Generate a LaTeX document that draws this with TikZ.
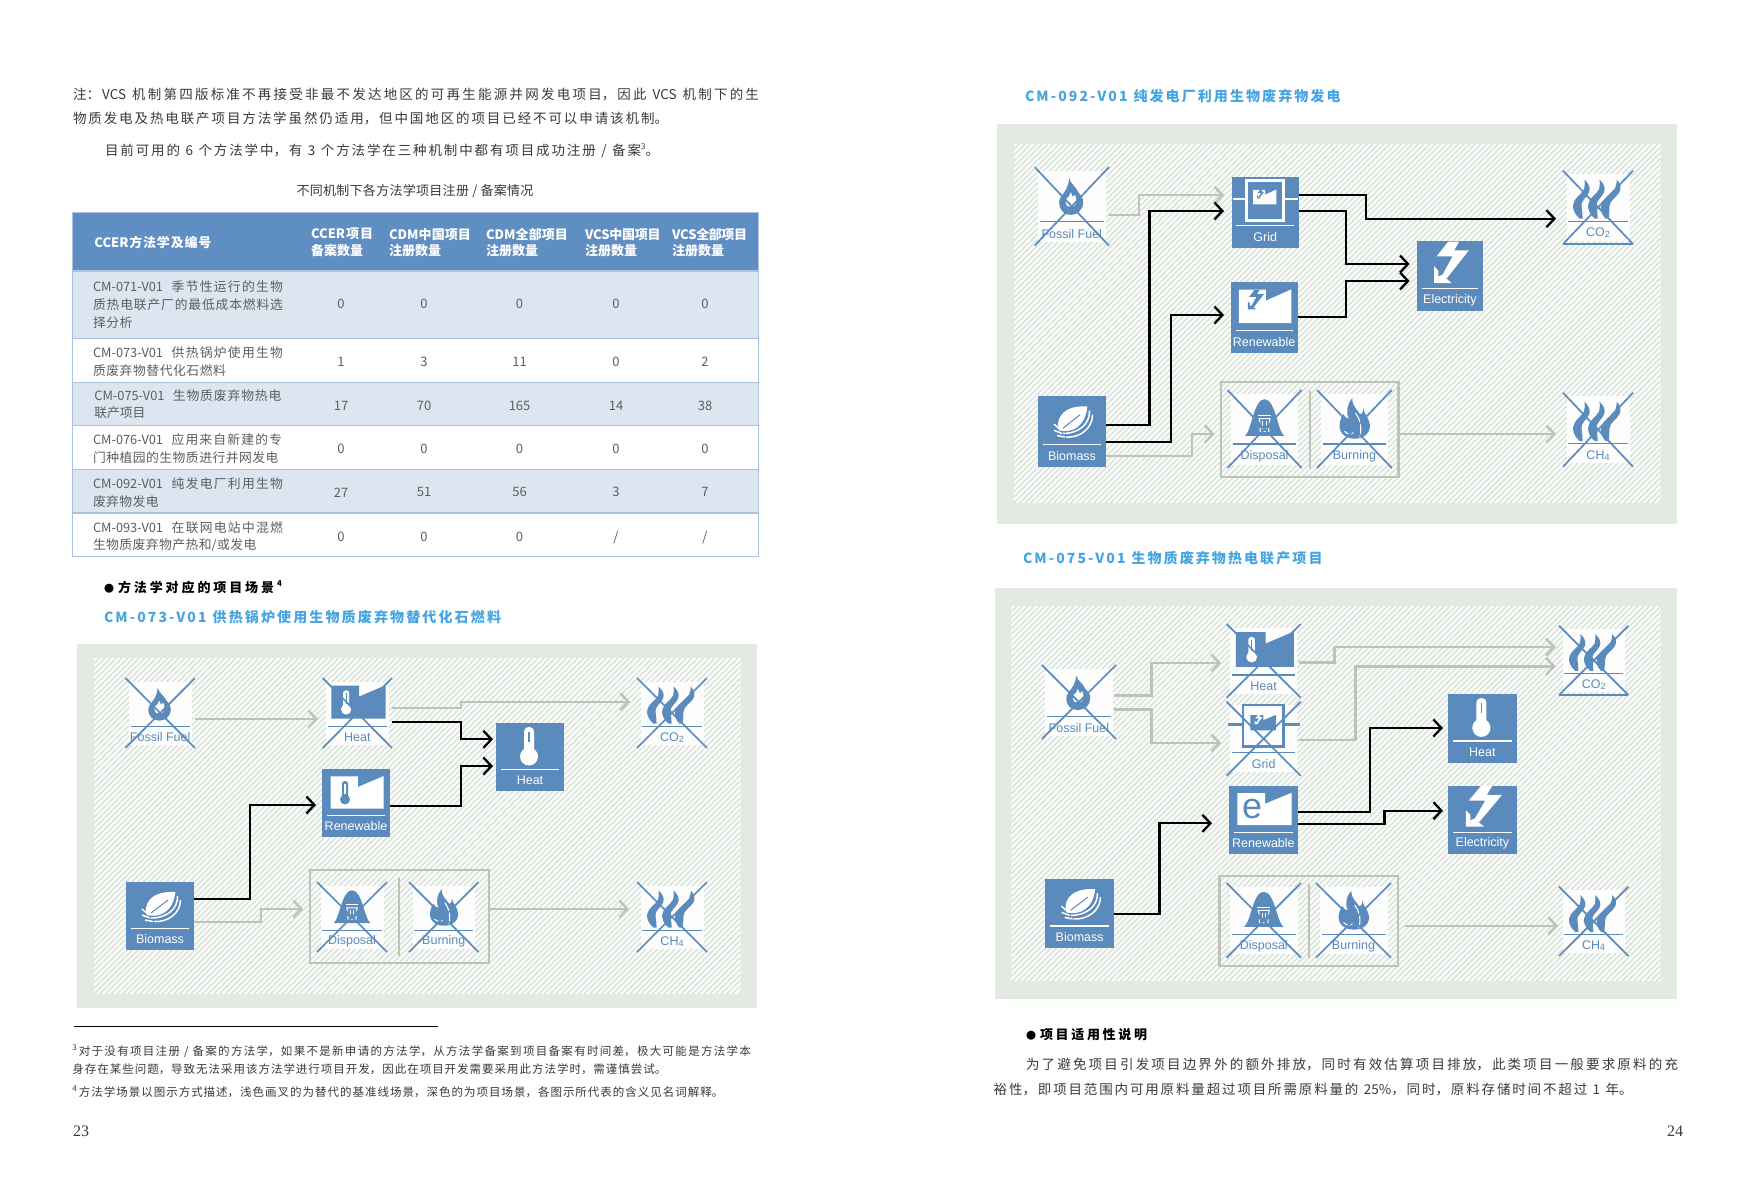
\documentclass[tikz,border=0pt]{standalone}
\usepackage{fontspec}
\usepackage{graphicx}
\setmainfont{Noto Sans CJK SC}
\newfontfamily\labfont{Liberation Sans}
\newfontfamily\pagefont{Liberation Serif}
\usetikzlibrary{arrows.meta}
\definecolor{ibl}{HTML}{5B8ABC}
\definecolor{panelout}{HTML}{E2EAE1}
\definecolor{stripec}{HTML}{DCE5DB}
\definecolor{grayarrow}{HTML}{BDC2BB}
\definecolor{hdrblue}{HTML}{5F8EC2}
\definecolor{rowblue}{HTML}{DCE6F1}
\definecolor{rowline}{HTML}{A9C3E0}
\definecolor{bodyc}{HTML}{3A3A3A}
\definecolor{tablec}{HTML}{5E5E5E}
\definecolor{titleblue}{HTML}{46A5E0}
\colorlet{fgc}{white}
\colorlet{bgc}{ibl}
\XeTeXlinebreaklocale "zh"
\XeTeXlinebreakskip=0pt plus 6pt minus 0.6pt
\newcounter{tn}
\tikzset{
  txtnode/.style={inner sep=0pt,outer sep=0pt,anchor=west,yshift=-1pt},
  bodytxt/.style={font=\fontsize{13.5}{15}\selectfont,text=bodyc},
  captxt/.style={font=\fontsize{13}{15}\selectfont,text=bodyc},
  foottxt/.style={font=\fontsize{11.5}{13}\selectfont,text=bodyc},
  hdrtxt/.style={font=\fontsize{13}{15}\selectfont\bfseries,text=white},
  celltxt/.style={font=\fontsize{12.8}{15}\selectfont,text=tablec},
  numtxt/.style={font=\fontsize{13}{15}\selectfont,text=tablec,inner sep=0pt,outer sep=0pt,anchor=center,yshift=-1pt},
  ttltxt/.style={font=\fontsize{14}{15}\selectfont\bfseries,text=titleblue},
  secttxt/.style={font=\fontsize{13}{15}\selectfont\bfseries,text=black},
  pageno/.style={font=\fontsize{16}{18}\selectfont\pagefont,text=bodyc,inner sep=0pt,outer sep=0pt},
  iconnode/.style={inner sep=0pt,outer sep=0pt,draw=none},
  labtxt/.style={font=\fontsize{12.5}{14}\selectfont\labfont,inner sep=0pt,outer sep=0pt},
  crossline/.style={draw=ibl,line width=1.7pt},
  blkarrow/.style={draw=black,line width=2.3pt,-{Straight Barb[length=8pt,width=17pt,line width=2.3pt]}},
  gryarrow/.style={draw=grayarrow,line width=2.4pt,-{Straight Barb[length=8pt,width=17pt,line width=2.4pt]}},
  grpbox/.style={draw=grayarrow,line width=2.2pt,inner sep=0pt,outer sep=0pt},
  divd/.style={draw=grayarrow,line width=2.2pt},
}
\newcommand{\tl}[5]{\stepcounter{tn}\node[txtnode,#4] (t\arabic{tn}) at (#1,#2) {\vbox{\hsize=#3pt\parindent=0pt\parfillskip=0pt\leftskip=0pt\rightskip=0pt\tolerance=9999\hbadness=10000\hfuzz=20pt\spaceskip=.22em plus .6em minus .05em\noindent\vphantom{国}#5\par}};}
\newcommand{\nm}[3]{\stepcounter{tn}\node[numtxt] (t\arabic{tn}) at (#1,#2) {#3};}
\newcommand{\lsp}[1]{{\addfontfeature{LetterSpace=15}#1}}
% glyphs: local box -34..34, y downward
\newcommand{\gFlame}{%
  \fill[fgc] (-2.4,-24.3) .. controls (-1,-19) and (4,-17) .. (6,-12) .. controls (9,-9) and (10.4,-7) .. (10.4,-3.5) .. controls (10.4,3) and (5,7.4) .. (-1,7.4) .. controls (-7,7.4) and (-11.6,3) .. (-11.6,-3) .. controls (-11.6,-7) and (-9,-9) .. (-7,-12) .. controls (-5,-15) and (-3,-18) .. (-2.4,-24.3) -- cycle;
  \fill[bgc] (-1,-12) -- (1,-8) -- (3,-10) .. controls (5,-6) and (4,-2) .. (2,0) -- (-4,0) .. controls (-7,-3) and (-5,-8) .. (-3,-8) -- cycle;
}
\newcommand{\gThermoSmall}{%
  \fill[bgc,rounded corners=2.6pt] (-14,-22) rectangle (-8,-4);
  \fill[bgc] (-11,-3.5) circle (5);
  \draw[fgc,line width=1.1pt] (-11,-19) -- (-11,-9);
}
\newcommand{\gFactoryShape}{%
  \fill[fgc] (-25.5,-26.6) -- (1.8,-26.6) -- (1.8,-16) -- (27.7,-27) -- (27.7,5.5) -- (-25.5,5.5) -- cycle;
}
\newcommand{\gThermoFactory}{\gFactoryShape\gThermoSmall}
\newcommand{\gThermoBig}{%
  \fill[fgc,rounded corners=4.5pt] (-6,-30) rectangle (4,-2);
  \fill[fgc] (-1,-0.5) circle (9);
  \draw[bgc,line width=1.1pt] (-1,-25.5) -- (-1,-15.5);
}
\newcommand{\gBoltShape}[1]{%
  \fill[#1] (-1.7,-33.5) -- (9.5,-33.5) -- (4.4,-24.9) -- (19.4,-24.9) -- (-2.4,1.5) -- (-8,6) -- (-13,1) -- (-7.5,-1.2) -- (2.7,-19) -- (-13.6,-19) -- cycle;
  \fill[#1] (-16.3,7) -- (-16.3,-9.4) -- (-11.9,-5.1) -- (-11.9,2.8) -- (-3.4,2.8) -- (1.7,7) -- cycle;
}
\newcommand{\gBolt}{\gBoltShape{fgc}}
\newcommand{\gBoltFactory}{\gFactoryShape
  \begin{scope}[shift={(-9,-11)},scale=0.46]\gBoltShape{bgc}\end{scope}}
\newcommand{\gEFactory}{\gFactoryShape
  \node[iconnode,font=\fontsize{36}{36}\selectfont\labfont,text=bgc] (elet) at (-11,-11) {e};}
\newcommand{\gGrid}{%
  \draw[fgc,line width=2.8pt] (-19,-31) rectangle (18,7.5);
  \draw[fgc,line width=2.2pt] (-33,-13) -- (-19,-13) (18,-13) -- (33,-13);
  \begin{scope}[shift={(-1,-10)},scale=0.44]\gBoltFactory\end{scope}
}
\newcommand{\gLeaf}{%
  \fill[fgc] (15.4,-24) .. controls (0,-25) and (-12,-20) .. (-14,-8) .. controls (-14.5,-5) and (-14,-3) .. (-13,-1) .. controls (0,2) and (13,-4) .. (15.4,-24) -- cycle;
  \draw[bgc,line width=1pt] (-9,-3) -- (8,-16);
  \draw[fgc,line width=1.5pt] (17.5,-20) .. controls (18,-8) and (8,2) .. (-9,2);
  \draw[fgc,line width=1.5pt] (20.5,-16) .. controls (20.5,-3) and (8,6.5) .. (-6,5.5);
  \draw[fgc,line width=1.5pt] (-11,-1) -- (-18,-7) (-10,2) -- (-18,-1) (-7,5.5) -- (-15,4);
}
\newcommand{\gOneSmoke}{%
  \fill[fgc] (-13,-25.7) .. controls (-9,-22) and (-7,-18) .. (-8.7,-14) .. controls (-11,-9) and (-17,-6) .. (-16,-1) .. controls (-15.5,3) and (-15,7) .. (-15,10.4) -- (-18,10.4) .. controls (-23,6) and (-25,1) .. (-24,-3) .. controls (-23,-9) and (-16,-12) .. (-13.5,-17) .. controls (-12.5,-20) and (-13,-23) .. (-13,-25.7) -- cycle;
}
\newcommand{\gSmoke}{%
  \gOneSmoke
  \begin{scope}[shift={(14.6,0)}]\gOneSmoke\end{scope}
  \begin{scope}[shift={(27,0)},xslant=0.17]\gOneSmoke\end{scope}
}
\newcommand{\gDisposal}{%
  \fill[fgc] (-18,6) .. controls (-12,2) and (-10,-26) .. (0,-26) .. controls (10,-26) and (12,2) .. (18,6) -- cycle;
  \draw[bgc,line width=1pt] (-4,-4) -- (-5,-9) -- (5,-9) -- (4,-4) (-4,-1) -- (-4,2) -- (4,2) -- (4,-1);
  \draw[bgc,line width=1pt] (-6,-12) -- (6,-12) (-1.5,-7) -- (-1.5,0) (1.5,-7) -- (1.5,0);
}
\newcommand{\gBurn}{%
  \fill[fgc] (-2,-27) .. controls (-8,-20) and (-7,-12) .. (-5,-9) .. controls (-8,-9) and (-9,-11) .. (-10,-13) .. controls (-15,-6) and (-16,5) .. (-4,8) .. controls (6,10) and (15,5) .. (14,-4) .. controls (13,-10) and (10,-11) .. (8,-18) .. controls (8,-13) and (6,-13) .. (5,-13) .. controls (3,-17) and (-2,-19) .. (-2,-27) -- cycle;
  \draw[bgc,line width=1.1pt] (1,-14) .. controls (5,-9) and (7,-2) .. (5,7);
  \draw[bgc,line width=1.1pt] (-9,2) .. controls (-6,5) and (-3,5) .. (-1,3);
}
% blue icon: name x1 y1 x2 y2 label glyph
\newcommand{\blueicon}[7]{%
  \node[iconnode,fill=ibl,minimum width={(#4-#2)*1pt},minimum height={(#5-#3)*1pt}] (#1) at ({(#2+#4)/2},{(#3+#5)/2}) {};
  \begin{scope}[shift={(#1.center)},xscale={(#4-#2)/68},yscale={(#5-#3)/68}]
    \colorlet{fgc}{white}\colorlet{bgc}{ibl}
    #7
    \draw[fgc,line width=1.2pt] (-29,12.5) -- (29,12.5);
    \node[labtxt,text=white] (#1l) at (0,23.5) {#6};
  \end{scope}}
% crossed icon: name x1 y1 x2 y2 label glyph
\newcommand{\crossicon}[7]{%
  \node[iconnode,fill=white,fill opacity=0.88,minimum width={(#4-#2-7)*1pt},minimum height={(#5-#3-7)*1pt}] (#1w) at ({(#2+#4)/2},{(#3+#5)/2}) {};
  \node[iconnode,minimum width={(#4-#2)*1pt},minimum height={(#5-#3)*1pt}] (#1) at ({(#2+#4)/2},{(#3+#5)/2}) {};
  \begin{scope}[shift={(#1.center)},xscale={(#4-#2)/68},yscale={(#5-#3)/68}]
    \colorlet{fgc}{ibl}\colorlet{bgc}{white}
    #7
    \draw[fgc,line width=1.2pt] (-29,13) -- (29,13);
    \node[labtxt,text=ibl] (#1l) at (0,23.5) {#6};
  \end{scope}
  \draw[crossline] (#1.north west) -- (#1.south east) (#1.north east) -- (#1.south west);}
\newcommand{\panel}[8]{%
  \fill[panelout] (#1,#2) rectangle (#3,#4);
  \begin{scope}
    \clip (#5,#6) rectangle (#7,#8);
    \fill[white] (#5,#6) rectangle (#7,#8);
    \pgfmathsetmacro{\hh}{#8-#6}
    \pgfmathsetmacro{\sa}{#5-\hh}
    \pgfmathsetmacro{\sb}{\sa+5.7}
    \foreach \s in {\sa,\sb,...,#7} {\draw[stripec,line width=1.8pt] (\s,#8) -- ({\s+\hh},#6);}
  \end{scope}}
\newcommand{\conn}[8]{\draw[#1,shorten <=#7pt,shorten >=#8pt] (#2.east |- 0,#3) -- (#4,#3) -- (#4,#5) -- (#6.west |- 0,#5);}
\newcommand{\straight}[6]{\draw[#1,shorten <=#5pt,shorten >=#6pt] (#2.east |- 0,#3) -- (#4.west |- 0,#3);}
\newcommand{\cotwo}{CO{\fontsize{9}{9}\selectfont\raisebox{-1pt}{2}}}
\newcommand{\chfour}{CH{\fontsize{9}{9}\selectfont\raisebox{-1pt}{4}}}
\newcommand{\supn}[1]{\raisebox{0.45em}{\fontsize{8}{8}\selectfont #1}}
\newcommand{\blt}{{\fontsize{10}{10}\selectfont ●}\hskip 4pt }
\newcommand{\cmgap}{\hskip 8pt plus 3pt }
\begin{document}
\begin{tikzpicture}[x=1pt,y=-1pt]
\useasboundingbox (0,0) rectangle (1750,1184);
\fill[white] (0,0) rectangle (1750,1184);

% ---- left page text
\tl{73}{94}{686}{bodytxt}{注：VCS 机制第四版标准不再接受非最不发达地区的可再生能源并网发电项目，因此 VCS 机制下的生}
\tl{73}{117}{595}{bodytxt}{物质发电及热电联产项目方法学虽然仍适用，但中国地区的项目已经不可以申请该机制。}
\tl{105}{150}{554}{bodytxt}{目前可用的 6 个方法学中，有 3 个方法学在三种机制中都有项目成功注册 / 备案\supn{3}。}
\tl{296.5}{190}{237}{captxt}{不同机制下各方法学项目注册 / 备案情况}

% ---- table
\fill[rowblue] (72.4,271) rectangle (758.3,338.7);
\fill[rowblue] (72.4,382.3) rectangle (758.3,425.7);
\fill[rowblue] (72.4,469.3) rectangle (758.3,513);
\fill[hdrblue] (72.4,212.7) rectangle (758.3,271);
\foreach \yy in {271,338.7,382.3,425.7,469.3,513} {\draw[rowline,line width=1.5pt] (72.4,\yy) -- (758.3,\yy);}
\draw[rowline,line width=1.5pt] (72.4,212.7) rectangle (758.3,556.7);

\tl{94.4}{241.7}{117}{hdrtxt}{CCER方法学及编号}
\tl{311}{233.3}{62}{hdrtxt}{CCER项目}
\tl{311}{250}{52}{hdrtxt}{备案数量}
\tl{389}{233.3}{82}{hdrtxt}{CDM中国项目}
\tl{389}{250}{52}{hdrtxt}{注册数量}
\tl{486}{233.3}{82}{hdrtxt}{CDM全部项目}
\tl{486}{250}{52}{hdrtxt}{注册数量}
\tl{585}{233.3}{75.6}{hdrtxt}{VCS中国项目}
\tl{585}{250}{52}{hdrtxt}{注册数量}
\tl{672}{233.3}{75}{hdrtxt}{VCS全部项目}
\tl{672}{250}{52}{hdrtxt}{注册数量}

\tl{93}{286}{190}{celltxt}{CM-071-V01\cmgap 季节性运行的生物}
\tl{93}{304}{190}{celltxt}{质热电联产厂的最低成本燃料选}
\tl{93}{321.7}{39.5}{celltxt}{择分析}
\tl{93}{351.7}{190}{celltxt}{CM-073-V01\cmgap 供热锅炉使用生物}
\tl{93}{369.3}{133}{celltxt}{质废弃物替代化石燃料}
\tl{94.4}{394.3}{187}{celltxt}{CM-075-V01\cmgap 生物质废弃物热电}
\tl{94.4}{412}{51}{celltxt}{联产项目}
\tl{93}{439}{189}{celltxt}{CM-076-V01\cmgap 应用来自新建的专}
\tl{93}{456.7}{185.5}{celltxt}{门种植园的生物质进行并网发电}
\tl{93}{482.7}{190}{celltxt}{CM-092-V01\cmgap 纯发电厂利用生物}
\tl{93}{500.3}{65.6}{celltxt}{废弃物发电}
\tl{93}{526.3}{190}{celltxt}{CM-093-V01\cmgap 在联网电站中混燃}
\tl{93}{544}{163.5}{celltxt}{生物质废弃物产热和/或发电}

\foreach \xx/\tv in {341/0,424/0,519.6/0,616/0,705/0} {\nm{\xx}{303.3}{\tv}}
\foreach \xx/\tv in {341/1,424/3,519.6/11,616/0,705/2} {\nm{\xx}{361}{\tv}}
\foreach \xx/\tv in {341/17,424/70,519.6/165,616/14,705/38} {\nm{\xx}{404.7}{\tv}}
\foreach \xx/\tv in {341/0,424/0,519.6/0,616/0,705/0} {\nm{\xx}{448}{\tv}}
\foreach \xx/\tv in {341/27,424/51,519.6/56,616/3,705/7} {\nm{\xx}{491.3}{\tv}}
\nm{341}{536}{0}\nm{424}{536}{0}\nm{519.6}{536}{0}\nm{616}{536}{/}\nm{705}{536}{/}

\tl{104}{586}{178}{secttxt}{\blt 方法学对应的项目场景\hskip 3pt\supn{4}}
\tl{104}{616}{397}{ttltxt}{\lsp{CM-073-V01} 供热锅炉使用生物质废弃物替代化石燃料}

% ---- panel 1
\panel{77}{644}{757}{1008}{93.7}{658}{740.5}{994}
\crossicon{fos1}{125.4}{678}{195}{748}{Fossil Fuel}{\gFlame}
\crossicon{hx1}{322.7}{678}{392}{748}{Heat}{\gThermoFactory}
\crossicon{co1}{637}{678}{707}{748}{\cotwo}{\gSmoke}
\blueicon{heat1}{496}{723}{564}{791}{Heat}{\gThermoBig}
\blueicon{ren1}{322}{769}{390}{837}{Renewable}{\gThermoFactory}
\blueicon{bio1}{126}{882}{194}{950}{Biomass}{\gLeaf}
\node[grpbox,minimum width=179pt,minimum height=93pt] (grp1) at (399.5,916.5) {};
\draw[divd] (399,878) -- (399,956);
\crossicon{dis1}{317}{882}{387}{952}{Disposal}{\gDisposal}
\crossicon{bur1}{409}{882}{478.5}{952}{Burning}{\gBurn}
\crossicon{ch1}{637}{882}{707}{952}{\chfour}{\gSmoke}

\straight{gryarrow}{fos1}{719}{hx1}{0}{4.7}
\conn{gryarrow}{hx1}{707.7}{461}{701.7}{co1}{0}{7}
\conn{blkarrow}{hx1}{722}{461}{739.3}{heat1}{0}{3}
\conn{blkarrow}{ren1}{806}{461}{766}{heat1}{0}{3}
\conn{blkarrow}{bio1}{899}{250}{805}{ren1}{0}{6}
\conn{gryarrow}{bio1}{922}{261}{909}{grp1}{0}{7}
\straight{gryarrow}{grp1}{909}{ch1}{0}{8}

% ---- footnotes left
\draw[black,line width=1pt] (73.7,1026) -- (437.5,1026);
\tl{72.4}{1050}{678.6}{foottxt}{\supn{3}\hskip 2pt 对于没有项目注册 / 备案的方法学，如果不是新申请的方法学，从方法学备案到项目备案有时间差，极大可能是方法学本}
\tl{72.4}{1068}{594}{foottxt}{身存在某些问题，导致无法采用该方法学进行项目开发，因此在项目开发需要采用此方法学时，需谨慎尝试。}
\tl{72.4}{1091}{651}{foottxt}{\supn{4}\hskip 2pt 方法学场景以图示方式描述，浅色画叉的为替代的基准线场景，深色的为项目场景，各图示所代表的含义见名词解释。}
\node[pageno,anchor=west] (pg23) at (73,1131) {23};

% ---- right page
\tl{1025}{95}{315.5}{ttltxt}{\lsp{CM-092-V01} 纯发电厂利用生物废弃物发电}
\panel{997}{123.5}{1676.6}{523.6}{1013.7}{144}{1660.5}{503}
\crossicon{fos2}{1034.6}{167}{1109}{245.7}{Fossil Fuel}{\gFlame}
\blueicon{grid2}{1231.5}{177}{1299}{247.7}{Grid}{\gGrid}
\blueicon{ren2}{1230.6}{282}{1297.6}{352.7}{Renewable}{\gBoltFactory}
\blueicon{ele2}{1416.8}{241}{1483}{310.7}{Electricity}{\gBolt}
\crossicon{co2}{1563}{170.7}{1633}{244}{\cotwo}{\gSmoke}
\draw[crossline] (co2.south west) -- (co2.south east);
\crossicon{ch2}{1563}{392.7}{1633}{466.7}{\chfour}{\gSmoke}
\blueicon{bio2}{1038}{396}{1106}{466.7}{Biomass}{\gLeaf}
\node[grpbox,minimum width=177.7pt,minimum height=95.6pt] (grp2) at (1309.7,429.5) {};
\draw[divd] (1310,390.7) -- (1310,468);
\crossicon{dis2}{1227.5}{390}{1301.6}{468}{Disposal}{\gDisposal}
\crossicon{bur2}{1317}{390}{1391.8}{468}{Burning}{\gBurn}

\conn{gryarrow}{fos2}{215}{1138.7}{195}{grid2}{0}{7.5}
\conn{blkarrow}{bio2}{424.7}{1149.4}{211}{grid2}{0}{7.5}
\conn{blkarrow}{bio2}{441.7}{1171}{315}{ren2}{0}{6.6}
\conn{gryarrow}{bio2}{456}{1192}{434}{grp2}{0}{6.3}
\conn{blkarrow}{grid2}{195.3}{1366}{218.7}{co2}{0}{7}
\conn{blkarrow}{grid2}{211}{1346}{264}{ele2}{0}{7.2}
\conn{blkarrow}{ren2}{316.7}{1346}{281}{ele2}{0}{7.2}
\straight{gryarrow}{grp2}{434}{ch2}{0}{7}

\tl{1023}{557}{299.5}{ttltxt}{\lsp{CM-075-V01} 生物质废弃物热电联产项目}
\panel{995.4}{587.7}{1676.6}{999}{1011.4}{605.7}{1660.5}{981}
\crossicon{fos3}{1041.8}{665}{1116}{739}{Fossil Fuel}{\gFlame}
\crossicon{hx3}{1226.6}{624}{1300.7}{697.7}{Heat}{\gThermoFactory}
\crossicon{gx3}{1226.6}{701.7}{1300.7}{775.7}{Grid}{\gGrid}
\crossicon{co3}{1559}{625.7}{1628.4}{695}{\cotwo}{\gSmoke}
\draw[crossline] (co3.south west) -- (co3.south east);
\blueicon{heat3}{1448}{694}{1516.8}{762.7}{Heat}{\gThermoBig}
\blueicon{ele3}{1448}{785.7}{1516.8}{853.7}{Electricity}{\gBolt}
\blueicon{ren3}{1228.8}{785.7}{1298}{853.7}{Renewable}{\gEFactory}
\blueicon{bio3}{1045.4}{879}{1114}{947.7}{Biomass}{\gLeaf}
\node[grpbox,minimum width=178.5pt,minimum height=90.3pt] (grp3) at (1308.7,920.8) {};
\draw[divd] (1308.7,884) -- (1308.7,957.7);
\crossicon{dis3}{1226.6}{883}{1301}{957.7}{Disposal}{\gDisposal}
\crossicon{bur3}{1316}{883}{1391}{957.7}{Burning}{\gBurn}
\crossicon{ch3}{1559}{886.7}{1628.4}{956}{\chfour}{\gSmoke}

\conn{gryarrow}{fos3}{695.3}{1151.6}{663}{hx3}{-2.3}{5.6}
\conn{gryarrow}{fos3}{709.3}{1151.6}{743}{gx3}{-2.3}{5.6}
\conn{gryarrow}{hx3}{662.3}{1334.6}{647}{co3}{-1.7}{3.4}
\conn{gryarrow}{gx3}{740}{1355.6}{666.3}{co3}{-1.7}{3.4}
\conn{blkarrow}{ren3}{812.3}{1370}{728}{heat3}{0}{5}
\conn{blkarrow}{ren3}{824.3}{1384.6}{810.7}{ele3}{0}{5}
\conn{blkarrow}{bio3}{914.3}{1159.6}{823.3}{ren3}{0}{16.8}
\straight{gryarrow}{grp3}{925.7}{ch3}{7}{1}

\tl{1026}{1034}{121}{secttxt}{\blt 项目适用性说明}
\tl{1026}{1063}{652}{bodytxt}{为了避免项目引发项目边界外的额外排放，同时有效估算项目排放，此类项目一般要求原料的充}
\tl{993.7}{1089}{639}{bodytxt}{裕性，即项目范围内可用原料量超过项目所需原料量的 25\%，同时，原料存储时间不超过 1 年。}
\node[pageno,anchor=west] (pg24) at (1667,1131) {24};
\end{tikzpicture}
\end{document}
